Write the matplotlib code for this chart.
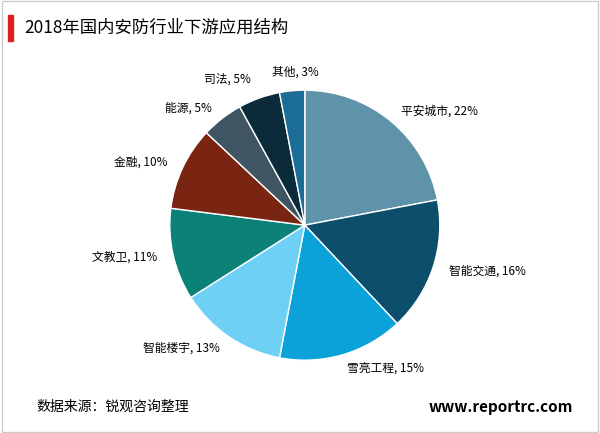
import matplotlib
matplotlib.use('Agg')
import matplotlib.pyplot as plt
from matplotlib.patches import Rectangle
import numpy as np

plt.rcParams['font.family'] = ['Noto Sans CJK SC', 'DejaVu Sans']

labels = ['平安城市', '智能交通', '雪亮工程', '智能楼宇', '文教卫', '金融', '能源', '司法', '其他']
values = [22, 16, 15, 13, 11, 10, 5, 5, 3]
colors = ['#5e93aa', '#0c4e6b', '#0aa2d9', '#6fd0f6', '#0b8178', '#7a2412',
          '#3f5564', '#0b2b3b', '#1b6d98']

fig = plt.figure(figsize=(6, 4.33), dpi=100)
fig.patches.append(Rectangle((0.003, 0.003), 0.994, 0.994, transform=fig.transFigure,
                             fill=False, edgecolor='#cccccc', linewidth=1))
fig.patches.append(Rectangle((0.013, 0.905), 0.008, 0.06, transform=fig.transFigure,
                             color='#e02020'))
fig.text(0.04, 0.935, '2018年国内安防行业下游应用结构', fontsize=12.5, va='center')

ax = fig.add_axes([0.283, 0.168, 0.45, 0.624])
wedges, _ = ax.pie(values, colors=colors, startangle=90, counterclock=False,
                   wedgeprops=dict(edgecolor='white', linewidth=1))
ax.set_xlim(-1, 1)
ax.set_ylim(-1, 1)
ax.set_aspect('equal')

for w, lab, v in zip(wedges, labels, values):
    ang = np.deg2rad((w.theta1 + w.theta2) / 2)
    x, y = 1.12 * np.cos(ang), 1.1 * np.sin(ang)
    ha = 'left' if x > 0.05 else ('right' if x < -0.05 else 'center')
    if lab == '其他':
        x, y, ha = -0.07, 1.13, 'center'
    elif lab == '司法':
        x, y, ha = -0.57, 1.08, 'center'
    ax.text(x, y, f'{lab}, {v}%', fontsize=8.5, ha=ha, va='center')

fig.text(0.06, 0.06, '数据来源：锐观咨询整理', fontsize=10, va='center')
fig.text(0.955, 0.06, 'www.reportrc.com', fontsize=11, fontweight='bold',
         ha='right', va='center')

fig.savefig('out.png', dpi=100)
